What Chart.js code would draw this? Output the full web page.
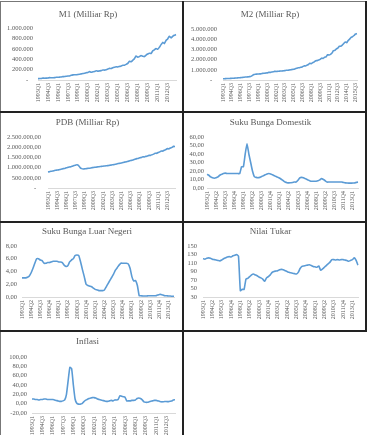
<!DOCTYPE html>
<html><head><meta charset="utf-8">
<script src="https://cdn.jsdelivr.net/npm/chart.js@4/dist/chart.umd.min.js"></script>
<style>
html,body{margin:0;padding:0;background:#fff;width:370px;height:435px;overflow:hidden}
canvas{position:absolute}
.ln{position:absolute;background:#222}
</style></head><body>
<canvas id="c1"></canvas><canvas id="c2"></canvas><canvas id="c3"></canvas><canvas id="c4"></canvas>
<canvas id="c5"></canvas><canvas id="c6"></canvas><canvas id="c7"></canvas>
<div class="ln" style="left:0;top:1px;width:367px;height:1px;background:#777"></div>
<div class="ln" style="left:0;top:1px;width:1px;height:434px;background:#777"></div>
<div class="ln" style="left:182px;top:1px;width:2px;height:434px"></div>
<div class="ln" style="left:365px;top:1px;width:2px;height:331px"></div>
<div class="ln" style="left:0;top:111px;width:367px;height:2px"></div>
<div class="ln" style="left:0;top:221px;width:367px;height:2px"></div>
<div class="ln" style="left:0;top:330px;width:367px;height:2px"></div>
<script>
// ---- categories ----
function quarterLabels(y0, y1){const a=[];for(let y=y0;y<=y1;y++)for(let q=1;q<=4;q++)a.push(y+'Q'+q);return a;}
const quarters = quarterLabels(1993, 2013);
const quartersM2 = quarterLabels(1993, 2015);

// ---- series values ----
const m1 = [26000,27500,29000,36800, 34000,36000,38000,45400, 42000,44000,46000,52700, 52000,56000,58000,64100,
 66000,72000,78000,78300, 90000,98000,100000,101200, 105000,110000,118000,124600, 130000,140000,145000,162200,
 150000,158000,165000,177700, 170000,175000,180000,191900, 190000,198000,210000,223800, 220000,235000,245000,253800,
 250000,260000,270000,281900, 285000,300000,320000,361100, 350000,380000,410000,460800, 440000,450000,470000,456800,
 450000,480000,500000,515800, 510000,560000,580000,605400, 590000,630000,680000,722900, 700000,760000,790000,841700,
 810000,840000,860000,875000];
const m2 = [120000,127000,135000,145200, 150000,158000,165000,174500, 180000,195000,205000,222600, 230000,250000,265000,288600,
 295000,310000,330000,355600, 450000,550000,570000,577400, 590000,600000,620000,646200, 660000,680000,700000,747000,
 750000,780000,800000,844100, 840000,850000,860000,883900, 880000,900000,920000,955700, 950000,980000,1000000,1033500,
 1050000,1100000,1150000,1203200, 1200000,1250000,1300000,1382500, 1380000,1450000,1520000,1649700, 1600000,1700000,1780000,1895800,
 1900000,1950000,2020000,2141400, 2110000,2230000,2270000,2471200, 2450000,2520000,2640000,2877200, 2910000,3050000,3130000,3307500,
 3320000,3410000,3580000,3730400, 3660000,3870000,4010000,4173300, 4250000,4360000,4510000,4548800];
const pdb = [780000,800000,820000,830000, 850000,870000,880000,890000, 910000,930000,950000,960000, 990000,1010000,1030000,1040000,
 1070000,1100000,1120000,1140000, 1100000,1000000,950000,930000, 940000,950000,960000,970000, 980000,1000000,1010000,1020000,
 1030000,1040000,1050000,1060000, 1070000,1080000,1090000,1095000, 1110000,1120000,1140000,1145000, 1160000,1180000,1200000,1210000,
 1230000,1250000,1270000,1280000, 1300000,1320000,1350000,1360000, 1380000,1410000,1440000,1450000, 1480000,1500000,1530000,1520000,
 1550000,1570000,1600000,1600000, 1630000,1660000,1700000,1700000, 1740000,1770000,1810000,1810000, 1850000,1880000,1930000,1920000,
 1960000,1990000,2040000,2030000];
const sukuBungaDomestik = [16,15,13,12, 11.5,12,13,15, 16,17,17.5,17, 17,17,17,17, 17,17,17,25,
 25,40,52,40, 30,20,13.5,12.5, 12,12.5,13.5,14.5, 15.5,16.5,17,16.5, 15.5,14.5,13.5,12.5, 11.5,10,8.5,7,
 6.2,6,6.2,6.4, 7,7,9,12, 12.5,12,11,10, 9,8,8,8, 8,8.5,9.5,11, 10,8.5,7,7, 7,7,7,7, 7,7,7,6.5,
 6,5.8,5.7,5.7, 5.8,5.9,6.5,7];
const sukuBungaLuarNegeri = [3.0,3.0,3.0,3.1, 3.3,3.8,4.5,5.3, 6.0,6.0,5.8,5.7, 5.3,5.3,5.4,5.4, 5.5,5.6,5.6,5.6,
 5.5,5.5,5.4,5.0, 4.8,4.9,5.5,5.8, 6.0,6.5,6.6,6.5, 5.5,4.3,3.2,2.0, 1.8,1.7,1.6,1.4, 1.2,1.1,1.0,1.0,
 1.0,1.1,1.6,2.1, 2.6,3.1,3.6,4.2, 4.6,5.0,5.3,5.3, 5.3,5.3,5.2,4.5, 3.2,2.5,2.6,1.8, 0.2,0.2,0.15,0.15,
 0.15,0.2,0.2,0.2, 0.2,0.2,0.3,0.4, 0.4,0.3,0.2,0.2, 0.15,0.15,0.1,0.1];
const nilaiTukar = [120,119,121,122, 121,119,118,117, 116,115,117,120, 122,124,125,124, 127,128,130,126,
 45,48,48,72, 74,78,82,84, 82,80,77,75, 72,67,75,78, 82,88,90,91, 92,94,95,94, 92,90,88,87,
 86,85,84,88, 97,102,103,104, 105,106,104,102, 101,100,103,93, 96,100,104,108, 112,118,118,117,
 118,117,118,118, 117,116,114,116, 118,122,116,105];
const inflasi = [10,10,9,9, 8,9,9,10, 10,9,9,9, 9,8,7,6, 5,5,6,8, 20,50,78,75, 40,10,1,-1,
 -1,0,4,7, 9,11,12,13, 13,12,10,9, 8,7,6,5, 5,6,7,6, 8,8,9,17, 16,15,14,6, 6,6,7,7,
 8,11,12,11, 8,4,3,3, 4,5,6,7, 7,6,5,4, 4,4.5,4.5,4.3, 5,5.5,8,8.3];

// ---- y axis ranges [min, max, step] ----
const m1Ticks = [0, 1000000, 200000];
const m2Ticks = [0, 5000000, 1000000];
const pdbTicks = [0, 2500000, 500000];
const domTicks = [0, 60, 10];
const lnTicks = [0, 8, 2];
const ntTicks = [30, 150, 20];
const infTicks = [-20, 100, 20];

function thousands(v){return Math.round(Math.abs(v)).toString().replace(/\B(?=(\d{3})+(?!\d))/g,'.');}
const fmtInt = v => v===0 ? '-   ' : thousands(v);
const fmtDec00 = v => v===0 ? '-   ' : thousands(v)+',00';
const fmt2 = v => (v<0?'-':'')+Math.abs(v).toFixed(2).replace('.',',');
const fmtPlain = v => String(v);

const SERIF = "'Liberation Serif', 'DejaVu Serif', serif";
const TXT = '#595959';

function make(id, cell, titleY, plot, labelRight, title, labels, data, ticks, step, fmt){
  const [cx,cy,cw,ch] = cell;
  const cv = document.getElementById(id);
  cv.style.left = cx+'px'; cv.style.top = cy+'px';
  cv.width = cw; cv.height = ch;
  const tSize = 9, lh = tSize*1.2;
  const tTop = (titleY-cy) - lh/2;
  const tBottom = (plot[1]-cy) - tTop - lh;
  const yW = plot[0]-cx, xH = cy+ch-plot[3], padR = cx+cw-plot[2];
  new Chart(cv, {
    type:'line',
    data:{labels, datasets:[{data, borderColor:'#5b9bd5', borderWidth:1.6, pointRadius:0, tension:0.15, fill:false}]},
    options:{
      responsive:false, animation:false, devicePixelRatio:1,
      layout:{padding:{left:0, right:padR, top:0, bottom:0}},
      plugins:{legend:{display:false}, tooltip:{enabled:false},
        title:{display:true, text:title, color:TXT, font:{family:SERIF, size:tSize, weight:'normal'}, padding:{top:tTop, bottom:tBottom}}},
      scales:{
        x:{offset:false, grid:{display:false, drawTicks:false}, border:{display:true, color:'#d9d9d9', width:1},
           ticks:{autoSkip:false, minRotation:90, maxRotation:90, padding:3, color:TXT, font:{family:SERIF, size:6},
             callback:function(v, i){return i % step === 0 ? this.getLabelForValue(v) : null;}},
           afterFit:s=>{s.height = xH;}},
        y:{min:ticks[0], max:ticks[1], grid:{display:false, drawTicks:false}, border:{display:false},
           ticks:{autoSkip:false, stepSize:ticks[2], padding:plot[0]-labelRight, color:TXT, font:{family:SERIF, size:6.5}, callback:v=>fmt(v)},
           afterFit:s=>{s.width = yW;}}
      }
    }
  });
}

make('c1',[0,0,183,112],15,[38,28,176,80],33,'M1 (Milliar Rp)',quarters,m1,m1Ticks,6,fmtInt);
make('c2',[183,0,183,112],15,[223,29,357,80],217,'M2 (Milliar Rp)',quartersM2,m2,m2Ticks,6,fmtInt);
make('c3',[0,112,183,110],123,[48,137,175,188],41,'PDB (Milliar Rp)',quarters,pdb,pdbTicks,6,fmtDec00);
make('c4',[183,112,183,110],123,[207,137,358,188],204,'Suku Bunga Domestik',quarters,sukuBungaDomestik,domTicks,5,fmt2);
make('c5',[0,222,183,109],232,[22,246,174,297],17,'Suku Bunga Luar Negeri',quarters,sukuBungaLuarNegeri,lnTicks,5,fmt2);
make('c6',[183,222,183,109],232,[203,246,358,297],197,'Nilai Tukar',quarters,nilaiTukar,ntTicks,5,fmtPlain);
make('c7',[0,331,183,104],342,[32,357,175,413],27,'Inflasi',quarters,inflasi,infTicks,6,fmt2);
</script>
</body></html>
